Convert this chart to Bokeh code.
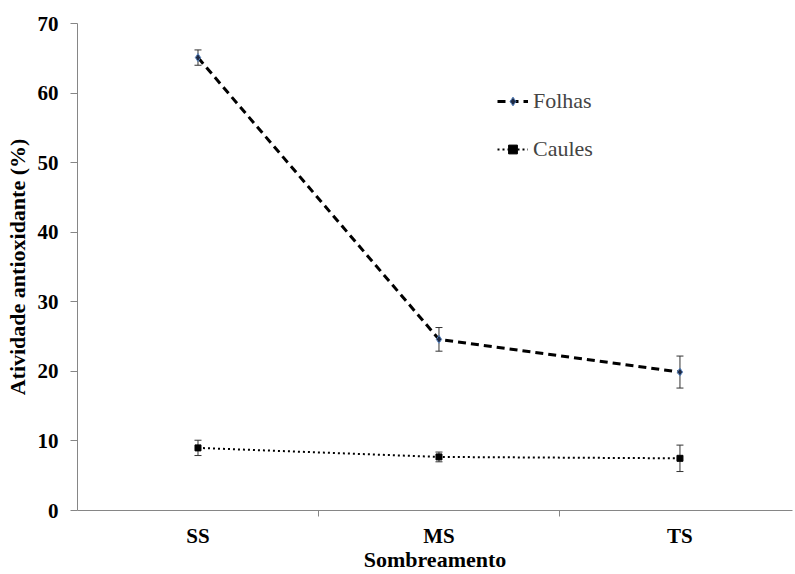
from bokeh.plotting import figure
from bokeh.models import ColumnDataSource, Whisker, TeeHead, FixedTicker, Legend, LegendItem
from bokeh.embed import file_html
from bokeh.resources import INLINE

categories = ["SS", "MS", "TS"]
folhas = [65.1, 24.6, 19.9]
folhas_err = [1.1, 1.7, 2.3]
caules = [9.0, 7.7, 7.5]
caules_err = [1.1, 0.7, 1.9]
yticks = [0, 10, 20, 30, 40, 50, 60, 70]

xs = [1, 2, 3]

p = figure(width=795, height=574, output_backend="svg", toolbar_location=None,
           x_range=(0.5, 3.467), y_range=(0, 70),
           min_border_left=77, min_border_right=3, min_border_top=23, min_border_bottom=64)
p.outline_line_color = None
p.xgrid.visible = False
p.ygrid.visible = False
p.background_fill_color = "white"
p.border_fill_color = "white"

FONT = "Liberation Serif"

src_f = ColumnDataSource(dict(x=xs, y=folhas,
                              lo=[v - e for v, e in zip(folhas, folhas_err)],
                              hi=[v + e for v, e in zip(folhas, folhas_err)]))
src_c = ColumnDataSource(dict(x=xs, y=caules,
                              lo=[v - e for v, e in zip(caules, caules_err)],
                              hi=[v + e for v, e in zip(caules, caules_err)]))

for src in (src_f, src_c):
    w = Whisker(source=src, base="x", upper="hi", lower="lo", line_color="#333333", line_width=1,
                upper_head=TeeHead(size=7, line_color="#333333", line_width=1),
                lower_head=TeeHead(size=7, line_color="#333333", line_width=1))
    p.add_layout(w)

lf = p.line("x", "y", source=src_f, line_color="black", line_width=3, line_dash="8 5")
mf = p.scatter("x", "y", source=src_f, marker="diamond", size=8, fill_color="#1f2a44",
               line_color="#5b86c0", line_width=1)
lc = p.line("x", "y", source=src_c, line_color="black", line_width=2, line_dash="2 3")
mc = p.scatter("x", "y", source=src_c, marker="square", size=6, fill_color="black", line_color="black")

legend = Legend(items=[LegendItem(label="Folhas", renderers=[lf, mf]),
                       LegendItem(label="Caules", renderers=[lc, mc])],
                location=(420, 348), orientation="vertical", spacing=22, padding=0, margin=0,
                glyph_width=31, glyph_height=22, label_height=22, label_standoff=5,
                label_text_font=FONT, label_text_font_size="22px",
                border_line_color=None, background_fill_alpha=0)
p.add_layout(legend, "center")

p.xaxis.ticker = FixedTicker(ticks=xs, minor_ticks=[1.5, 2.5])
p.xaxis.major_label_overrides = {i + 1: c for i, c in enumerate(categories)}
p.xaxis.major_tick_out = 0
p.xaxis.major_tick_in = 0
p.xaxis.minor_tick_out = 6
p.xaxis.minor_tick_in = 0
p.xaxis.major_label_standoff = 7
p.xaxis.axis_label = "Sombreamento"
p.xaxis.axis_label_standoff = -4

p.yaxis.ticker = FixedTicker(ticks=yticks)
p.yaxis.minor_tick_out = 0
p.yaxis.minor_tick_in = 0
p.yaxis.major_tick_out = 7
p.yaxis.major_tick_in = 0
p.yaxis.major_label_standoff = 12
p.yaxis.axis_label = "Atividade antioxidante (%)"
p.yaxis.axis_label_standoff = 5

for ax in (p.xaxis, p.yaxis):
    ax.axis_line_color = "#868686"
    ax.major_tick_line_color = "#868686"
    ax.minor_tick_line_color = "#868686"
    ax.major_label_text_font = FONT
    ax.major_label_text_font_style = "bold"
    ax.major_label_text_font_size = "21px"
    ax.major_label_text_color = "black"
    ax.axis_label_text_font = FONT
    ax.axis_label_text_font_style = "bold"
    ax.axis_label_text_font_size = "22px"
    ax.axis_label_text_color = "black"

open("out.html", "w").write(file_html(p, INLINE))
